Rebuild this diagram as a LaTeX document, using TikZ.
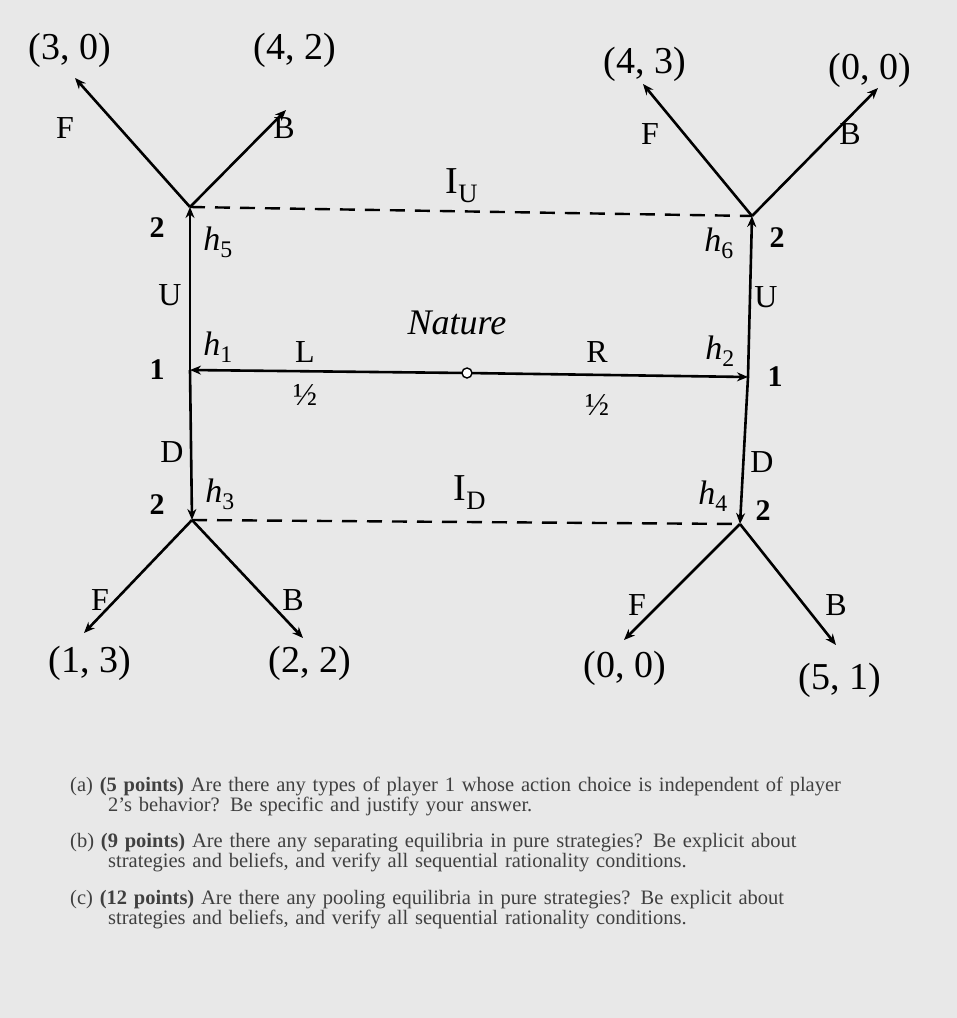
\documentclass[tikz,border=0pt]{standalone}
\usepackage{fontspec}
\setmainfont{Liberation Serif}
\usetikzlibrary{arrows.meta}
\begin{document}
\begin{tikzpicture}[x=1pt,y=-1pt,
  edge/.style={line width=2.6pt,-{Stealth[length=11pt,width=9pt]}},
  lbl/.style={font=\fontsize{38}{40}\selectfont},
  hl/.style={font=\fontsize{34}{36}\selectfont},
  sml/.style={font=\fontsize{32}{34}\selectfont},
  num/.style={font=\bfseries\fontsize{30}{32}\selectfont},
  q/.style={font=\fontsize{20.5}{18}\selectfont, text=black!75, align=left, anchor=north west, text width=860pt, inner sep=0pt}]
\fill[gray!18] (0,0) rectangle (957,1018);
\useasboundingbox (0,0) rectangle (957,1018);
% nodes
\coordinate (N) at (467,373);
\coordinate (L1) at (190,370);
\coordinate (R1) at (748,377);
\coordinate (L2u) at (190,207);
\coordinate (R2u) at (752,216);
\coordinate (L2d) at (192,520);
\coordinate (R2d) at (740,524);
\coordinate (a1) at (75,78); \coordinate (a2) at (286,110);
\coordinate (a3) at (643,84); \coordinate (a4) at (878,88);
\coordinate (a5) at (84,633); \coordinate (a6) at (303,638);
\coordinate (a7) at (624,640); \coordinate (a8) at (836,645);
\draw[edge] (N) -- (L1);
\draw[edge] (N) -- (R1);
\draw[edge] (L1) -- (L2u);
\draw[edge] (L1) -- (L2d);
\draw[edge] (R1) -- (R2u);
\draw[edge] (R1) -- (R2d);
\draw[edge] (L2u) -- (a1); \draw[edge] (L2u) -- (a2);
\draw[edge] (R2u) -- (a3); \draw[edge] (R2u) -- (a4);
\draw[edge] (L2d) -- (a5); \draw[edge] (L2d) -- (a6);
\draw[edge] (R2d) -- (a7); \draw[edge] (R2d) -- (a8);
\draw[line width=2.4pt,dash pattern=on 15pt off 10pt] (L2u) -- (R2u);
\draw[line width=2.4pt,dash pattern=on 15pt off 10pt] (L2d) -- (R2d);
\draw[fill=white,line width=1.4pt] (N) circle (5pt);
% labels
\node[lbl] (p1) at (70,50) {(3, 0)};
\node[lbl] (p2) at (295,50) {(4, 2)};
\node[lbl] (p3) at (645,64) {(4, 3)};
\node[lbl] (p4) at (870,70) {(0, 0)};
\node[lbl] (p5) at (90,663) {(1, 3)};
\node[lbl] (p6) at (310,663) {(2, 2)};
\node[lbl] (p7) at (625,668) {(0, 0)};
\node[lbl] (p8) at (840,680) {(5, 1)};
\node[sml] (f1) at (65,128) {F};
\node[sml] (b1) at (284,128) {B};
\node[sml] (f2) at (650,134) {F};
\node[sml] (b2) at (850,134) {B};
\node[sml] (f3) at (100,600) {F};
\node[sml] (b3) at (293,600) {B};
\node[sml] (f4) at (637,605) {F};
\node[sml] (b4) at (836,605) {B};
\node[lbl] (iu) at (462,186) {I\textsubscript{U}};
\node[lbl] (id) at (470,493) {I\textsubscript{D}};
\node[font=\itshape\fontsize{36}{38}\selectfont] (nat) at (457,323) {Nature};
\node[sml] (lL) at (305,352) {L};
\node[sml] (lh1) at (305,395) {½};
\node[sml] (lR) at (597,352) {R};
\node[sml] (lh2) at (597,405) {½};
\node[sml] (u1) at (170,295) {U};
\node[sml] (u2) at (766,297) {U};
\node[sml] (d1) at (172,452) {D};
\node[sml] (d2) at (762,462) {D};
\node[hl] (h5) at (218,242) {\textit{h}\textsubscript{5}};
\node[hl] (h6) at (719,243) {\textit{h}\textsubscript{6}};
\node[hl] (h1) at (218,347) {\textit{h}\textsubscript{1}};
\node[hl] (h2) at (720,351) {\textit{h}\textsubscript{2}};
\node[hl] (h3) at (220,494) {\textit{h}\textsubscript{3}};
\node[hl] (h4) at (713,496) {\textit{h}\textsubscript{4}};
\node[num] (n1) at (157,228) {2};
\node[num] (n2) at (777,238) {2};
\node[num] (n3) at (157,370) {1};
\node[num] (n4) at (775,377) {1};
\node[num] (n5) at (157,505) {2};
\node[num] (n6) at (763,511) {2};
% questions
\node[q] (qa) at (70,777) {(a) \textbf{(5 points)} Are there any types of player 1 whose action choice is independent of player\\\hspace*{38pt}2's behavior? Be specific and justify your answer.};
\node[q] (qb) at (70,833) {(b) \textbf{(9 points)} Are there any separating equilibria in pure strategies? Be explicit about\\\hspace*{38pt}strategies and beliefs, and verify all sequential rationality conditions.};
\node[q] (qc) at (70,890) {(c) \textbf{(12 points)} Are there any pooling equilibria in pure strategies? Be explicit about\\\hspace*{38pt}strategies and beliefs, and verify all sequential rationality conditions.};
\end{tikzpicture}
\end{document}
